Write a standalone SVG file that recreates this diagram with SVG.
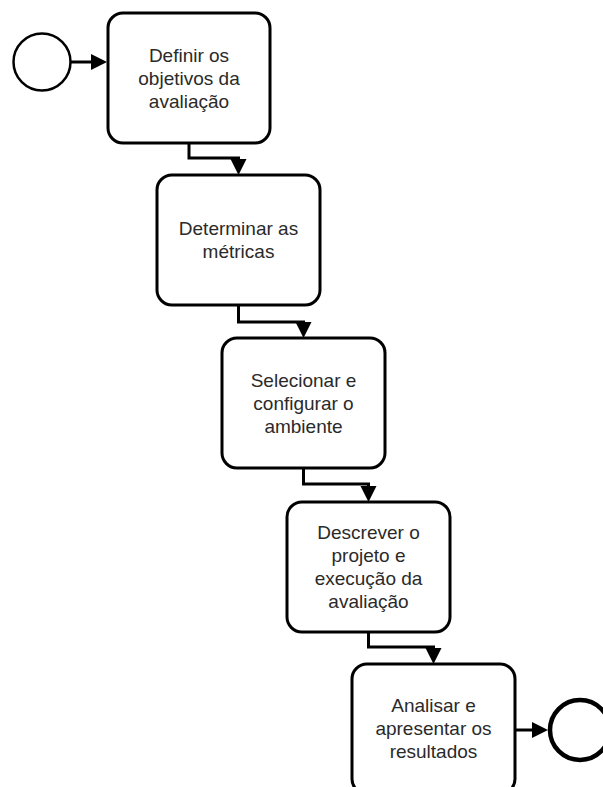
<svg xmlns="http://www.w3.org/2000/svg" width="603" height="787" viewBox="0 0 603 787">
<style>
.task{fill:#fff;stroke:#000;stroke-width:3}
.lbl{font-family:"Liberation Sans",Arial,sans-serif;font-size:19px;fill:#2a2a2a;text-anchor:middle}
.edge{fill:none;stroke:#000;stroke-width:3}
</style>
<defs>
<path id="headDown" d="M-8,-16 L8,-16 L0,0 z" fill="#000"/>
<path id="headRight" d="M-16,-8 L0,0 L-16,8 z" fill="#000"/>
</defs>
<rect width="603" height="787" fill="#fff"/>
<g id="connectors">
<path class="edge" d="M71,62 H95"/>
<use href="#headRight" x="107" y="62"/>
<path class="edge" d="M189,143 V158 H238.5 V162"/>
<use href="#headDown" x="238.5" y="175"/>
<path class="edge" d="M238.5,305 V322 H303.5 V326"/>
<use href="#headDown" x="303.5" y="338"/>
<path class="edge" d="M303.5,468 V484 H368.5 V490"/>
<use href="#headDown" x="368.5" y="502"/>
<path class="edge" d="M368.5,632 V647 H433.5 V652"/>
<use href="#headDown" x="433.5" y="664"/>
<path class="edge" d="M515,730 H536"/>
<use href="#headRight" x="548" y="730"/>
</g>
<g id="start">
<circle cx="42" cy="62" r="28.5" fill="#fff" stroke="#000" stroke-width="2.5"/>
</g>
<g id="task1">
<rect class="task" x="108" y="13" width="162" height="130" rx="15"/>
<text class="lbl" x="189" y="62">Definir os</text>
<text class="lbl" x="189" y="85">objetivos da</text>
<text class="lbl" x="189" y="108">avaliação</text>
</g>
<g id="task2">
<rect class="task" x="157" y="175" width="163" height="130" rx="15"/>
<text class="lbl" x="238.5" y="235">Determinar as</text>
<text class="lbl" x="238.5" y="258">métricas</text>
</g>
<g id="task3">
<rect class="task" x="222" y="338" width="163" height="130" rx="15"/>
<text class="lbl" x="303.5" y="387">Selecionar e</text>
<text class="lbl" x="303.5" y="410">configurar o</text>
<text class="lbl" x="303.5" y="433">ambiente</text>
</g>
<g id="task4">
<rect class="task" x="287" y="502" width="163" height="130" rx="15"/>
<text class="lbl" x="368.5" y="539">Descrever o</text>
<text class="lbl" x="368.5" y="562">projeto e</text>
<text class="lbl" x="368.5" y="585">execução da</text>
<text class="lbl" x="368.5" y="608">avaliação</text>
</g>
<g id="task5">
<rect class="task" x="352" y="664" width="163" height="130" rx="15"/>
<text class="lbl" x="433.5" y="712">Analisar e</text>
<text class="lbl" x="433.5" y="735">apresentar os</text>
<text class="lbl" x="433.5" y="758">resultados</text>
</g>
<g id="end">
<circle cx="580" cy="730" r="30" fill="#fff" stroke="#000" stroke-width="4.5"/>
</g>
</svg>
